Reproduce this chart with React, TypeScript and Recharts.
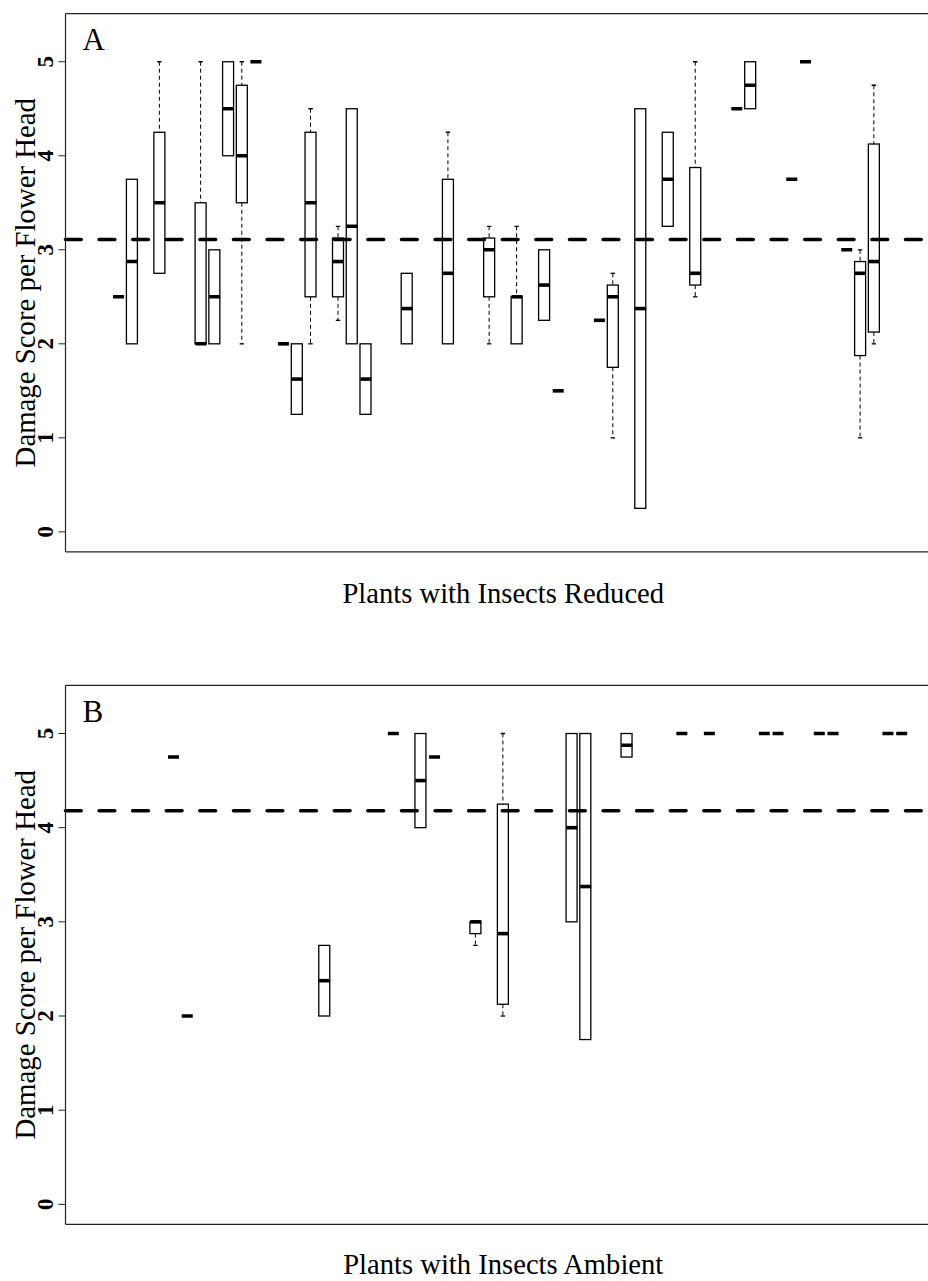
import React from 'react';
import { ComposedChart, Bar, Scatter, XAxis, YAxis, ReferenceLine } from 'recharts';

// Panel A: plants with insects reduced (position, whisker low, Q1, median, Q3, whisker high)
const POS_A = [2, 3, 5, 8, 9, 10, 11, 12, 14, 15, 16, 18, 19, 20, 23, 26, 29, 31, 33, 34, 37, 38, 40, 42, 44, 47, 48, 51, 52, 55, 56, 57];
const LO_A = [2.5, 2, 2.75, 2, 2, 4, 2, 5, 2, 1.25, 2, 2.25, 2, 1.25, 2, 2, 2, 2, 2.25, 1.5, 2.25, 1, 0.25, 3.25, 2.5, 4.5, 4.5, 3.75, 5, 3, 1, 2];
const Q1_A = [2.5, 2, 2.75, 2, 2, 4, 3.5, 5, 2, 1.25, 2.5, 2.5, 2, 1.25, 2, 2, 2.5, 2, 2.25, 1.5, 2.25, 1.75, 0.25, 3.25, 2.625, 4.5, 4.5, 3.75, 5, 3, 1.875, 2.125];
const MED_A = [2.5, 2.875, 3.5, 2, 2.5, 4.5, 4, 5, 2, 1.625, 3.5, 2.875, 3.25, 1.625, 2.375, 2.75, 3, 2.5, 2.625, 1.5, 2.25, 2.5, 2.375, 3.75, 2.75, 4.5, 4.75, 3.75, 5, 3, 2.75, 2.875];
const Q3_A = [2.5, 3.75, 4.25, 3.5, 3, 5, 4.75, 5, 2, 2, 4.25, 3.125, 4.5, 2, 2.75, 3.75, 3.125, 2.5, 3, 1.5, 2.25, 2.625, 4.5, 4.25, 3.875, 4.5, 5, 3.75, 5, 3, 2.875, 4.125];
const HI_A = [2.5, 3.75, 5, 5, 3, 5, 5, 5, 2, 2, 4.5, 3.25, 4.5, 2, 2.75, 4.25, 3.25, 3.25, 3, 1.5, 2.25, 2.75, 4.5, 4.25, 5, 4.5, 5, 3.75, 5, 3, 3, 4.75];
const MEAN_A = 3.11;

// Panel B: plants with insects ambient
const POS_B = [6, 7, 17, 22, 24, 25, 28, 30, 35, 36, 39, 43, 45, 49, 50, 53, 54, 58, 59];
const LO_B = [4.75, 2, 2, 5, 4, 4.75, 2.75, 2, 3, 1.75, 4.75, 5, 5, 5, 5, 5, 5, 5, 5];
const Q1_B = [4.75, 2, 2, 5, 4, 4.75, 2.875, 2.125, 3, 1.75, 4.75, 5, 5, 5, 5, 5, 5, 5, 5];
const MED_B = [4.75, 2, 2.375, 5, 4.5, 4.75, 3, 2.875, 4, 3.375, 4.875, 5, 5, 5, 5, 5, 5, 5, 5];
const Q3_B = [4.75, 2, 2.75, 5, 5, 4.75, 3, 4.25, 5, 5, 5, 5, 5, 5, 5, 5, 5, 5, 5];
const HI_B = [4.75, 2, 2.75, 5, 5, 4.75, 3, 5, 5, 5, 5, 5, 5, 5, 5, 5, 5, 5, 5];
const MEAN_B = 4.18;

const Y_TICKS = [0, 1, 2, 3, 4, 5];
const X_DOMAIN: [number, number] = [-1.86, 61.86];
const Y_DOMAIN: [number, number] = [-0.212, 5.512];

const SERIF = '"Liberation Serif", "Times New Roman", serif';

const buildRows = (pos: number[], lo: number[], q1: number[], med: number[], q3: number[], hi: number[]) =>
  pos.map((p, i) => ({
    p,
    base: lo[i],
    lowW: q1[i] - lo[i],
    box: q3[i] - q1[i],
    upW: hi[i] - q3[i],
    med: med[i],
  }));

const rowsA = buildRows(POS_A, LO_A, Q1_A, MED_A, Q3_A, HI_A);
const rowsB = buildRows(POS_B, LO_B, Q1_B, MED_B, Q3_B, HI_B);

const Empty = () => <g />;

const LowerWhisker = (props: any) => {
  const { x, y, width, height } = props;
  if (!height || height <= 0) return <g />;
  const cx = x + width / 2;
  return (
    <g>
      <line x1={cx} x2={cx} y1={y} y2={y + height} stroke="#000" strokeWidth={1} strokeDasharray="4 3" />
      <line x1={cx - 2.2} x2={cx + 2.2} y1={y + height} y2={y + height} stroke="#000" strokeWidth={1.3} />
    </g>
  );
};

const UpperWhisker = (props: any) => {
  const { x, y, width, height } = props;
  if (!height || height <= 0) return <g />;
  const cx = x + width / 2;
  return (
    <g>
      <line x1={cx} x2={cx} y1={y} y2={y + height} stroke="#000" strokeWidth={1} strokeDasharray="4 3" />
      <line x1={cx - 2.2} x2={cx + 2.2} y1={y} y2={y} stroke="#000" strokeWidth={1.3} />
    </g>
  );
};

const BoxShape = (props: any) => {
  const { x, y, width, height } = props;
  if (!height || height <= 0) return <g />;
  return <rect x={x} y={y} width={width} height={height} fill="#fff" stroke="#000" strokeWidth={1.3} />;
};

const MedianShape = (props: any) => {
  const { cx, cy } = props;
  return <line x1={cx - 5.5} x2={cx + 5.5} y1={cy} y2={cy} stroke="#000" strokeWidth={3.6} />;
};

const YTick = (props: any) => {
  const { x, y, payload } = props;
  return (
    <text
      x={x}
      y={y}
      dy={-3}
      transform={`rotate(-90 ${x} ${y})`}
      textAnchor="middle"
      fontFamily={SERIF}
      fontWeight="bold"
      fontSize={23}
      fill="#000"
    >
      {payload.value}
    </text>
  );
};

interface PanelProps {
  letter: string;
  xTitle: string;
  rows: ReturnType<typeof buildRows>;
  mean: number;
  top: number;
  height: number;
  marginTop: number;
  xAxisHeight: number;
  titleOffset: number;
}

const Panel: React.FC<PanelProps> = ({ letter, xTitle, rows, mean, top, height, marginTop, xAxisHeight, titleOffset }) => {
  const yLabel = (lp: any) => {
    const vb = lp.viewBox || {};
    const cy = vb.y + vb.height / 2;
    return (
      <g>
        <text x={35} y={cy} transform={`rotate(-90 35 ${cy})`} textAnchor="middle" fontFamily={SERIF} fontSize={28.8} fill="#000">
          Damage Score per Flower Head
        </text>
        <text x={vb.x + vb.width + 17} y={vb.y + 36.4} fontFamily={SERIF} fontSize={31} fill="#000">
          {letter}
        </text>
      </g>
    );
  };
  const xLabel = (lp: any) => {
    const vb = lp.viewBox || {};
    return (
      <text x={vb.x + vb.width / 2} y={vb.y + titleOffset} textAnchor="middle" fontFamily={SERIF} fontSize={28.6} fill="#000">
        {xTitle}
      </text>
    );
  };

  return (
    <div style={{ position: 'absolute', left: 0, top }}>
      <ComposedChart
        width={941}
        height={height}
        data={rows}
        barSize={11}
        margin={{ top: marginTop, right: 0, bottom: 0, left: 5 }}
      >
        <XAxis
          type="number"
          dataKey="p"
          domain={X_DOMAIN}
          allowDataOverflow
          tick={false}
          tickLine={false}
          height={xAxisHeight}
          axisLine={{ stroke: '#222', strokeWidth: 1.2 }}
          label={xLabel}
        />
        <YAxis
          type="number"
          domain={Y_DOMAIN}
          ticks={Y_TICKS}
          allowDataOverflow
          width={60.5}
          tickSize={7}
          tickMargin={2}
          tickLine={{ stroke: '#222', strokeWidth: 1 }}
          axisLine={{ stroke: '#222', strokeWidth: 1.2 }}
          tick={<YTick />}
          label={yLabel}
        />
        <Bar dataKey="base" stackId="bp" shape={<Empty />} isAnimationActive={false} />
        <Bar dataKey="lowW" stackId="bp" shape={<LowerWhisker />} isAnimationActive={false} />
        <Bar dataKey="box" stackId="bp" shape={<BoxShape />} isAnimationActive={false} />
        <Bar dataKey="upW" stackId="bp" shape={<UpperWhisker />} isAnimationActive={false} />
        <Scatter dataKey="med" shape={<MedianShape />} isAnimationActive={false} />
        <ReferenceLine
          y={mean}
          stroke="#000"
          strokeWidth={3.6}
          strokeDasharray="15.7 17.9"
          strokeLinecap="round"
        />
        {/* top edge of the plot frame */}
        <ReferenceLine y={Y_DOMAIN[1]} ifOverflow="visible" stroke="#222" strokeWidth={1.2} />
      </ComposedChart>
    </div>
  );
};

export default function App() {
  return (
    <div style={{ position: 'fixed', left: 0, top: 0, width: 928, height: 1281, overflow: 'hidden', background: '#fff' }}>
      <Panel
        letter="A"
        xTitle="Plants with Insects Reduced"
        rows={rowsA}
        mean={MEAN_A}
        top={0}
        height={620}
        marginTop={13.6}
        xAxisHeight={68.2}
        titleOffset={50.9}
      />
      <Panel
        letter="B"
        xTitle="Plants with Insects Ambient"
        rows={rowsB}
        mean={MEAN_B}
        top={640}
        height={641}
        marginTop={45.3}
        xAxisHeight={56.7}
        titleOffset={49.7}
      />
    </div>
  );
}
